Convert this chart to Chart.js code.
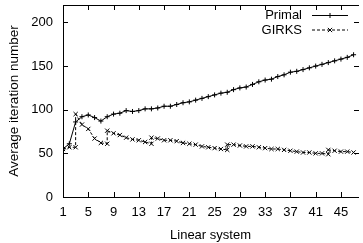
<!DOCTYPE html>
<html>
<head>
<meta charset="utf-8">
<script src="https://cdn.jsdelivr.net/npm/chart.js@4/dist/chart.umd.min.js"></script>
<style>
  body { margin: 0; background: #fff; }
  #wrap { width: 363px; height: 243px; }
</style>
</head>
<body>
<div id="wrap"><canvas id="chart" width="363" height="243"></canvas></div>
<script>
// linear system index for the Primal run
var systems = [1, 2, 3, 4, 5, 6, 7, 8, 9, 10, 11, 12, 13, 14, 15, 16, 17, 18, 19, 20,
    21, 22, 23, 24, 25, 26, 27, 28, 29, 30, 31, 32, 33, 34, 35, 36, 37, 38, 39, 40,
    41, 42, 43, 44, 45, 46, 47];
var primal = [55, 61, 86, 92, 94, 91, 87, 92, 95, 96, 99, 98, 99, 101, 101, 102, 104, 104, 106, 108,
    109, 111, 113, 115, 117, 119, 120, 123, 125, 126, 129, 132, 134, 135, 138, 140, 143, 144, 146, 148,
    150, 152, 154, 156, 158, 160, 163];

// GIRKS restarts at some systems, so those x values appear twice
var girksX = [1, 2, 3, 3, 4, 5, 6, 7, 8, 8, 9, 10, 11, 12, 13, 14, 15, 15, 16, 17, 18, 19, 20,
    21, 22, 23, 24, 25, 26, 27, 27, 28, 29, 30, 31, 32, 33, 34, 35, 36, 37, 38, 39, 40,
    41, 42, 43, 43, 44, 45, 46, 47];
var girksY = [55, 57, 57, 95, 83, 78, 67, 62, 61, 76, 73, 71, 68, 66, 65, 63, 61, 68, 67, 65, 65, 64, 62,
    61, 60, 58, 57, 56, 55, 54, 60, 60, 59, 58, 58, 57, 56, 55, 55, 54, 53, 52, 51, 51,
    50, 50, 49, 54, 53, 52, 52, 51];

var xTicks = [1, 5, 9, 13, 17, 21, 25, 29, 33, 37, 41, 45];
var yTicks = [0, 50, 100, 150, 200];

var font = "'Liberation Sans', Arial, sans-serif";

// gnuplot-like frame: border plus inward ticks on every side
var framePlugin = {
    id: 'frame',
    afterDraw: (chart) => {
        var ctx = chart.ctx,
            a = chart.chartArea,
            xs = chart.scales.x,
            ys = chart.scales.y,
            len = 5;
        ctx.save();
        ctx.strokeStyle = '#000';
        ctx.lineWidth = 1;
        ctx.beginPath();
        ctx.moveTo(a.left + 0.5, a.top + 0.5);
        ctx.lineTo(a.left + 0.5, a.bottom + 0.5);
        ctx.lineTo(a.right + 1, a.bottom + 0.5);
        ctx.moveTo(a.left + 0.5, a.top + 0.5);
        ctx.lineTo(a.right + 1, a.top + 0.5);
        xTicks.forEach((v) => {
            var px = Math.round(xs.getPixelForValue(v)) + 0.5;
            ctx.moveTo(px, a.bottom);
            ctx.lineTo(px, a.bottom - len);
            ctx.moveTo(px, a.top);
            ctx.lineTo(px, a.top + len);
        });
        yTicks.forEach((v) => {
            var py = Math.round(ys.getPixelForValue(v)) + 0.5;
            ctx.moveTo(a.left, py);
            ctx.lineTo(a.left + len, py);
            ctx.moveTo(a.right + 1, py);
            ctx.lineTo(a.right + 1 - len, py);
        });
        ctx.stroke();

        // legend, text right-aligned before the sample line
        ctx.font = '13px ' + font;
        ctx.fillStyle = '#000';
        ctx.textAlign = 'right';
        ctx.textBaseline = 'middle';
        chart.data.datasets.forEach((ds, i) => {
            var y = 15.5 + i * 14.5;
            ctx.fillText(ds.label, 302, y);
            ctx.beginPath();
            ctx.setLineDash(ds.borderDash || []);
            ctx.moveTo(312, y);
            ctx.lineTo(348, y);
            ctx.stroke();
            ctx.setLineDash([]);
            Chart.helpers.drawPoint(ctx, {
                pointStyle: ds.pointStyle,
                radius: ds.pointRadius,
                borderWidth: 1
            }, 330, y);
        });
        ctx.restore();
    }
};

new Chart(document.getElementById('chart'), {
    type: 'line',
    data: {
        datasets: [{
            label: 'Primal',
            data: systems.map((s, i) => ({x: s, y: primal[i]})),
            borderColor: '#000',
            borderWidth: 1,
            pointStyle: 'cross',
            pointRadius: 2.5,
            pointBorderColor: '#000',
            pointBorderWidth: 1,
            fill: false
        }, {
            label: 'GIRKS',
            data: girksX.map((s, i) => ({x: s, y: girksY[i]})),
            borderColor: '#000',
            borderWidth: 1,
            borderDash: [3, 2],
            pointStyle: 'crossRot',
            pointRadius: 3,
            pointBorderColor: '#000',
            pointBorderWidth: 1,
            fill: false
        }]
    },
    options: {
        responsive: false,
        animation: false,
        devicePixelRatio: 1,
        layout: {padding: {top: 4, right: 0, left: 0, bottom: 0}},
        plugins: {
            legend: {display: false},
            tooltip: {enabled: false}
        },
        scales: {
            x: {
                type: 'linear',
                min: 1,
                max: 47.7,
                grid: {display: false, drawTicks: false},
                border: {display: false},
                afterBuildTicks: (scale) => {
                    scale.ticks = xTicks.map((v) => ({value: v}));
                },
                afterFit: (scale) => {
                    scale.height = 46;
                    scale.paddingLeft = 0;
                    scale.paddingRight = 0;
                },
                ticks: {
                    autoSkip: false,
                    maxRotation: 0,
                    padding: 8,
                    color: '#000',
                    font: {family: font, size: 13}
                },
                title: {
                    display: true,
                    text: 'Linear system',
                    color: '#000',
                    font: {family: font, size: 13},
                    padding: {top: 0, bottom: 0}
                }
            },
            y: {
                min: 0,
                max: 220,
                grid: {display: false, drawTicks: false},
                border: {display: false},
                afterBuildTicks: (scale) => {
                    scale.ticks = yTicks.map((v) => ({value: v}));
                },
                afterFit: (scale) => {
                    scale.width = 63;
                    scale.paddingTop = 0;
                    scale.paddingBottom = 0;
                },
                ticks: {
                    padding: 10,
                    color: '#000',
                    font: {family: font, size: 13}
                },
                title: {
                    display: true,
                    text: 'Average iteration number',
                    color: '#000',
                    font: {family: font, size: 13.5},
                    padding: {top: 6, bottom: 0}
                }
            }
        }
    },
    plugins: [framePlugin]
});
</script>
</body>
</html>
